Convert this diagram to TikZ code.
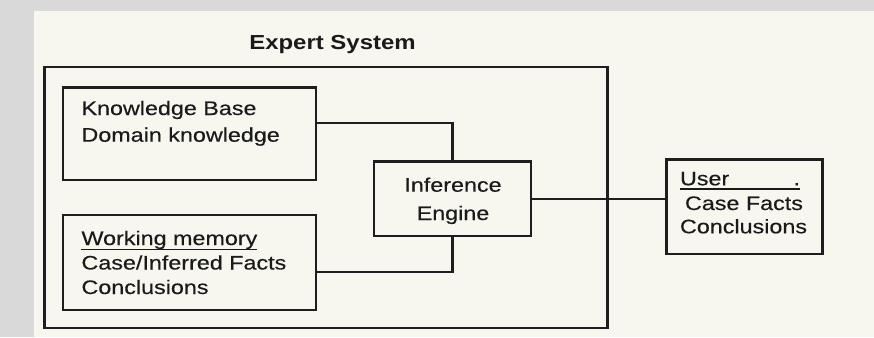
\documentclass[tikz,border=0pt]{standalone}
\usepackage{fontspec}
\setmainfont{Liberation Sans}[FakeStretch=1.18]
\newfontfamily\bodyfont{Liberation Sans}[FakeStretch=1.19,FakeBold=0.35]
\begin{document}
\begin{tikzpicture}[x=1pt,y=-1pt,
  box/.style={draw=linec,line width=2.2pt,fill=none,inner sep=0pt,outer sep=0pt},
  txt/.style={inner sep=0pt,outer sep=0pt,text=textc,font=\bodyfont\fontsize{19.6}{22}\selectfont},
  ttl/.style={inner sep=0pt,outer sep=0pt,text=textc,font=\fontsize{20.3}{23}\selectfont\bfseries},
  wire/.style={draw=linec,line width=2.2pt},
  uline/.style={draw=textc,line width=1.5pt}]
\definecolor{bandc}{HTML}{D9D9D9}
\definecolor{paper}{HTML}{F7F7F0}
\definecolor{linec}{HTML}{1E1E1E}
\definecolor{textc}{HTML}{1A1A1A}
\useasboundingbox (0,0) rectangle (874,337);
\fill[bandc] (0,0) rectangle (874,337);
\fill[paper] (34,11) rectangle (874,337);
% boxes
\node[box,minimum width=563pt,minimum height=261pt] (ES) at (326,197.5) {};
\node[box,minimum width=253pt,minimum height=92.5pt] (KB) at (189.5,133.75) {};
\node[box,minimum width=253pt,minimum height=95pt] (WM) at (189.5,262.5) {};
\node[box,minimum width=156.5pt,minimum height=74.5pt] (IE) at (452.5,198.75) {};
\node[box,minimum width=156pt,minimum height=94.5pt] (US) at (744.5,206.75) {};
% title
\node[ttl,anchor=base] (title) at (332.5,49) {Expert System};
% knowledge base text
\node[txt,anchor=base west] (kb1) at (81.5,115) {Knowledge Base};
\node[txt,anchor=base west] (kb2) at (81.5,141.7) {Domain knowledge};
% working memory text
\node[txt,anchor=base west] (wm1) at (81.5,245) {Working memory};
\node[txt,anchor=base west] (wm2) at (81.5,269.5) {Case/Inferred Facts};
\node[txt,anchor=base west] (wm3) at (81.5,294) {Conclusions};
\draw[uline] (81,249.5) -- (wm1.base east |- 0,249.5);
% inference engine text
\node[txt,anchor=base] (ie1) at (453,191.7) {Inference};
\node[txt,anchor=base] (ie2) at (453,220) {Engine};
% user text
\node[txt,anchor=base west] (us1) at (680,185.3) {User};
\node[txt,anchor=base east] (usdot) at (800,185.3) {.};
\node[txt,anchor=base west] (us2) at (685,210) {Case Facts};
\node[txt,anchor=base west] (us3) at (680,233.3) {Conclusions};
\draw[uline] (680,189.2) -- (800,189.2);
% connectors
\coordinate (kbj) at (452.5,123.3);
\coordinate (wmj) at (452.5,271.7);
\draw[wire] (KB.east |- kbj) -- (kbj) -- (IE.north);
\draw[wire] (WM.east |- wmj) -- (wmj) -- (IE.south);
\draw[wire] (IE.east) -- (IE.east -| US.west);
\end{tikzpicture}
\end{document}
